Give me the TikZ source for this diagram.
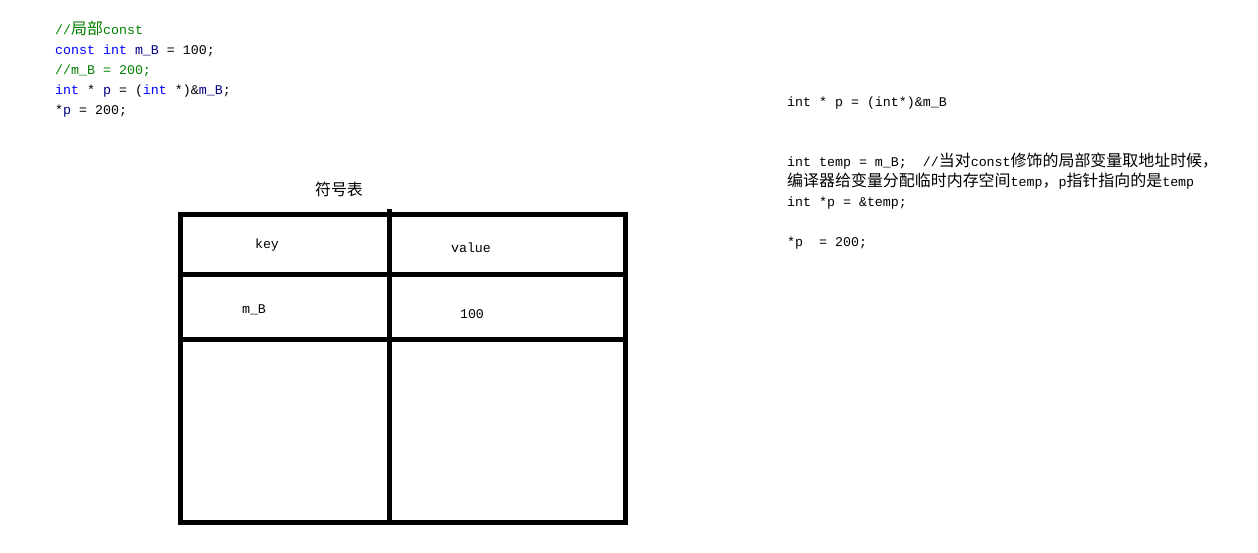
\documentclass[tikz,border=0pt]{standalone}
\usepackage{fontspec}
\setmonofont{Liberation Mono}
\newfontfamily\cjk{Noto Sans CJK SC}[Scale=1.2]
\definecolor{cgreen}{RGB}{0,128,0}
\definecolor{cblue}{RGB}{0,0,255}
\definecolor{cnavy}{RGB}{0,0,128}
\newcommand{\kw}[1]{\textcolor{cblue}{#1}}
\newcommand{\vr}[1]{\textcolor{cnavy}{#1}}
\newcommand{\cm}[1]{\textcolor{cgreen}{#1}}
\begin{document}
\begin{tikzpicture}[x=1pt,y=-1pt,
  code/.style={anchor=base west,inner sep=0pt,font=\ttfamily\fontsize{13.3}{16}\selectfont},
  cell/.style={anchor=center,inner sep=0pt,font=\ttfamily\fontsize{13.3}{16}\selectfont},
  grid/.style={line width=5pt,black}]
\useasboundingbox[fill=white] (0,0) rectangle (1258,552);
% left code
\node[code] (l1) at (55,34) {\cm{//{\cjk 局部}const}};
\node[code] (l2) at (55,54) {\kw{const} \kw{int} \vr{m\_B} = 100;};
\node[code] (l3) at (55,74) {\cm{//m\_B = 200;}};
\node[code] (l4) at (55,94) {\kw{int} * \vr{p} = (\kw{int} *)\&\vr{m\_B};};
\node[code] (l5) at (55,114) {*\vr{p} = 200;};
% right text
\node[code] (r1) at (787,106) {int * p = (int*)\&m\_B};
\node[code] (r2) at (787,166) {int temp = m\_B;\ \ //{\cjk 当对}const{\cjk 修饰的局部变量取地址时候，}};
\node[code] (r3) at (787,186) {{\cjk 编译器给变量分配临时内存空间}temp{\cjk ，}p{\cjk 指针指向的是}temp};
\node[code] (r4) at (787,206) {int *p = \&temp;};
\node[code] (r5) at (787,246) {*p\ \ = 200;};
% table
\node[cell] (title) at (339,189) {\cjk 符号表};
\draw[grid] (180.5,214.5) rectangle (625,522.5);
\draw[grid] (389.5,209) -- (389.5,522.5);
\draw[grid] (180.5,274.5) -- (625,274.5);
\draw[grid] (183,339.5) -- (624,339.5);
\node[cell] (key) at (267,245) {key};
\node[cell] (value) at (471,248) {value};
\node[cell] (mb) at (254,310) {m\_B};
\node[cell] (v100) at (472,314) {100};
\end{tikzpicture}
\end{document}
